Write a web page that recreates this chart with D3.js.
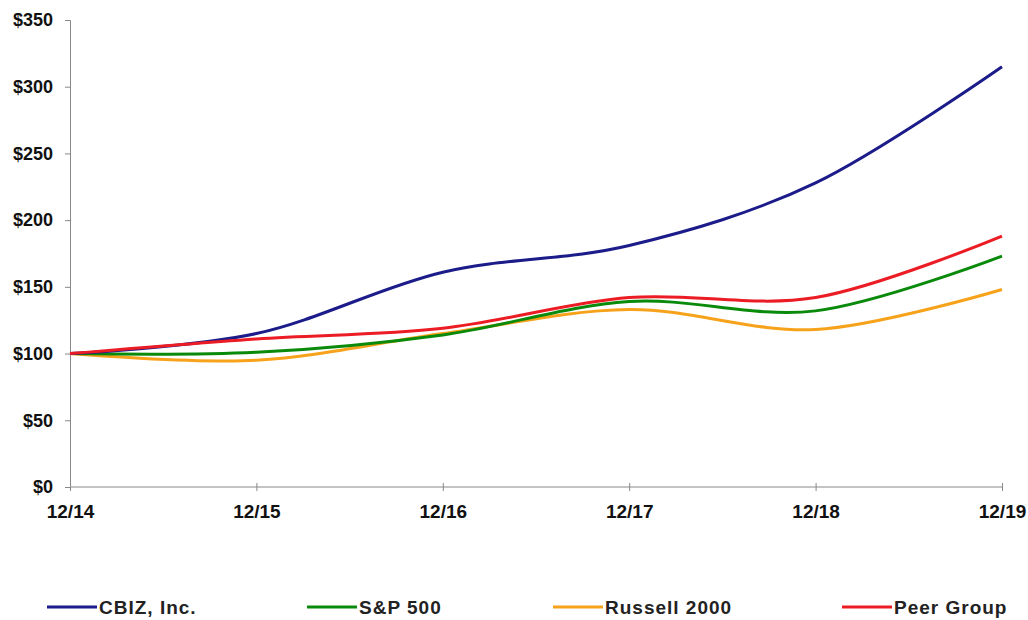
<!DOCTYPE html>
<html>
<head>
<meta charset="utf-8">
<script src="https://cdn.jsdelivr.net/npm/d3@7"></script>
<style>
  body { margin: 0; background: #fff; }
  svg text { font-family: "Liberation Sans", Arial, sans-serif; }
</style>
</head>
<body>
<svg id="chart" width="1028" height="620"></svg>
<script>
const periods = ['12/14', '12/15', '12/16', '12/17', '12/18', '12/19'];
const cbiz    = [100, 115, 161, 181, 228, 315];
const sp500   = [100, 101, 114, 139, 132, 173];
const russell = [100, 95, 115, 133, 118, 148];
const peer    = [100, 111, 119, 142, 142, 188];
const yTicks  = [0, 50, 100, 150, 200, 250, 300, 350];

const series = [
    { name: 'CBIZ, Inc.',   values: cbiz,    color: '#1b1b8a' },
    { name: 'S&P 500',      values: sp500,   color: '#0a8a0a' },
    { name: 'Russell 2000', values: russell, color: '#f7a21b' },
    { name: 'Peer Group',   values: peer,    color: '#ec1c24' }
];

const svg = d3.select('#chart');
const plotLeft = 70, plotRight = 1002, plotTop = 20, plotBottom = 487;

const x = d3.scalePoint().domain(periods).range([plotLeft, plotRight]);
const y = d3.scaleLinear().domain([0, 350]).range([plotBottom, plotTop]);

// y axis
const yAxis = svg.append('g')
    .attr('transform', `translate(${plotLeft},0)`)
    .call(d3.axisLeft(y).tickValues(yTicks).tickSize(5).tickPadding(12)
        .tickFormat(d => '$' + d));
yAxis.selectAll('path, line').attr('stroke', '#888');
yAxis.selectAll('text')
    .attr('font-size', 18).attr('font-weight', 'bold').attr('fill', '#111');

// x axis
const xAxis = svg.append('g')
    .attr('transform', `translate(0,${plotBottom})`)
    .call(d3.axisBottom(x).tickSizeOuter(0).tickSize(5).tickPadding(13));
xAxis.select('.domain').attr('d', `M${plotLeft},0H${plotRight}`);
xAxis.selectAll('path, line').attr('stroke', '#888');
xAxis.selectAll('.tick line').attr('y1', -4).attr('y2', 4);
xAxis.selectAll('text')
    .attr('font-size', 19).attr('font-weight', 'bold').attr('fill', '#111');

// lines, peer group drawn last so it sits on top
const line = d3.line()
    .x((d, i) => x(periods[i]))
    .y(d => y(d))
    .curve(d3.curveCardinal.tension(0));

const drawOrder = [series[2], series[1], series[0], series[3]];
svg.append('g').selectAll('path')
    .data(drawOrder)
    .join('path')
    .attr('d', d => line(d.values))
    .attr('fill', 'none')
    .attr('stroke', d => d.color)
    .attr('stroke-width', 3);

// legend
const legendX = [47, 307, 553, 842];
const legend = svg.append('g').selectAll('g')
    .data(series)
    .join('g')
    .attr('transform', (d, i) => `translate(${legendX[i]},607)`);
legend.append('line')
    .attr('x1', 0).attr('x2', 50)
    .attr('stroke', d => d.color).attr('stroke-width', 3);
legend.append('text')
    .attr('x', 52).attr('dy', '0.36em')
    .attr('font-size', 19).attr('font-weight', 'bold')
    .attr('letter-spacing', 1).attr('fill', '#222')
    .text(d => d.name);
</script>
</body>
</html>
